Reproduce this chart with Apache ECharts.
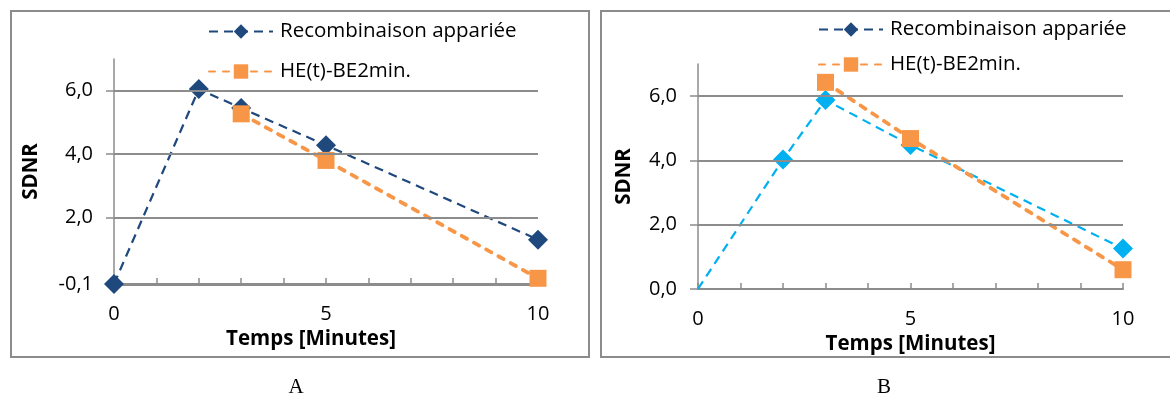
<!DOCTYPE html>
<html>
<head>
<meta charset="utf-8">
<script src="https://cdn.jsdelivr.net/npm/echarts@6/dist/echarts.min.js"></script>
<style>
html,body{margin:0;padding:0;background:#fff;}
#c{width:1170px;height:400px;}
</style>
</head>
<body>
<div id="c"></div>
<script>
// ---- data ----
const seriesNames = ['Recombinaison appariée', 'HE(t)-BE2min.'];
// Chart A
const aBlueX = [0, 2, 3, 5, 10];
const aBlueY = [-0.1, 6.05, 5.45, 4.28, 1.3];
const aOrangeX = [3, 5, 10];
const aOrangeY = [5.27, 3.8, 0.08];
// Chart B
const bBlueX = [0, 2, 3, 5, 10];
const bBlueY = [0.0, 4.03, 5.88, 4.48, 1.26];
const bOrangeX = [3, 5, 10];
const bOrangeY = [6.43, 4.68, 0.6];
// axis ticks
const aYTicks = [-0.1, 2, 4, 6];
const aGridValues = [2, 4, 6];
const bYTicks = [0, 2, 4, 6];
const xLabelValues = [0, 5, 10];
const panelLabels = ['A', 'B'];
const xName = 'Temps [Minutes]';
const yName = 'SDNR';

const pairs = (xs, ys) => xs.map((x, i) => [x, ys[i]]);

const dark = '#1F497D';
const light = '#00B0F0';
const orange = '#F79646';
const gray = '#8c8c8c';
const font = 'Open Sans';

function fmtY(v){ return v.toFixed(1).replace('.', ','); }

function xAxis(gridIndex, nameGap, namePad){
  return {
    type: 'value', gridIndex, min: 0, max: 10, interval: 1,
    name: xName, nameLocation: 'middle', nameGap,
    nameTextStyle: {fontFamily: font, fontWeight: 'bold', fontSize: 20.5, color: '#000', padding: namePad},
    axisLine: {onZero: false, lineStyle: {color: gray, width: gridIndex === 0 ? 3 : 2}},
    axisTick: {show: true, inside: true, length: 6, lineStyle: {color: gray, width: 1.5}},
    axisLabel: {fontFamily: font, fontSize: 20, color: '#000', margin: 20,
      formatter: v => xLabelValues.includes(v) ? String(v) : ''},
    splitLine: {show: false}
  };
}
function yAxis(gridIndex, min, ticks, nameGap){
  return {
    type: 'value', gridIndex, min, max: 7,
    name: yName, nameLocation: 'middle', nameGap, nameRotate: 90,
    nameTextStyle: {fontFamily: font, fontWeight: 'bold', fontSize: 20.5, color: '#000'},
    axisLine: {show: true, onZero: false, lineStyle: {color: gray, width: 1.5}},
    axisTick: {show: true, inside: false, length: 8, customValues: ticks, lineStyle: {color: gray, width: 1.5}},
    axisLabel: {fontFamily: font, fontSize: 20, color: '#000', margin: 21, customValues: ticks, formatter: fmtY},
    splitLine: {show: false}
  };
}
function gridLines(vals){
  return {
    silent: true, symbol: 'none', label: {show: false},
    lineStyle: {color: gray, width: 2, type: 'solid'},
    data: vals.map(v => ({yAxis: v}))
  };
}
function blueSeries(idx, color, data, grid){
  return {
    name: seriesNames[0], type: 'line', xAxisIndex: idx, yAxisIndex: idx,
    data, symbol: 'diamond', symbolSize: 20, clip: false,
    itemStyle: {color}, lineStyle: {color, width: 2.2, type: [9, 6]},
    markLine: gridLines(grid), z: 3
  };
}
function orangeSeries(idx, data){
  return {
    name: seriesNames[1], type: 'line', xAxisIndex: idx, yAxisIndex: idx,
    data, symbol: 'rect', symbolSize: 17, clip: false,
    itemStyle: {color: orange}, lineStyle: {color: orange, width: 3.8, type: [6, 8], cap: 'round'}, z: 4
  };
}
function legend(left, top, gap){
  return {
    orient: 'vertical', left, top, itemWidth: 64, itemHeight: 18, itemGap: gap,
    textStyle: {fontFamily: font, fontSize: 20.5, color: '#000', padding: [0, 0, 0, 2]},
    data: seriesNames, selectedMode: false
  };
}

const bData = pairs(bBlueX, bBlueY).map((p, i) => i === 0 ? {value: p, symbol: 'none'} : p);

const chart = echarts.init(document.getElementById('c'), null, {renderer: 'canvas'});
const option = {
  animation: false,
  backgroundColor: '#fff',
  grid: [
    {left: 114, right: 1170 - 538, top: 59, bottom: 400 - 284},
    {left: 698, right: 1170 - 1123, top: 64, bottom: 400 - 289}
  ],
  xAxis: [xAxis(0, 44, [0, 30, 0, 0]), xAxis(1, 39, 0)],
  yAxis: [yAxis(0, -0.1, aYTicks, 72), yAxis(1, 0, bYTicks, 63)],
  legend: [
    Object.assign(legend(203, 16, 19), {seriesIndex: [0, 1]}),
    Object.assign(legend(813, 14, 14), {seriesIndex: [2, 3]})
  ],
  series: [
    blueSeries(0, dark, pairs(aBlueX, aBlueY), aGridValues),
    orangeSeries(0, pairs(aOrangeX, aOrangeY)),
    blueSeries(1, light, bData, [2, 4, 6]),
    orangeSeries(1, pairs(bOrangeX, bOrangeY))
  ],
  graphic: [
    {type: 'rect', shape: {x: 11, y: 11, width: 578, height: 346}, style: {fill: 'none', stroke: gray, lineWidth: 2}, silent: true},
    {type: 'rect', shape: {x: 601, y: 11, width: 580, height: 346}, style: {fill: 'none', stroke: gray, lineWidth: 2}, silent: true},
    {type: 'text', x: 296, y: 387, style: {text: panelLabels[0], font: '21px "Liberation Serif"', fill: '#000', align: 'center', verticalAlign: 'middle'}},
    {type: 'text', x: 884, y: 387, style: {text: panelLabels[1], font: '21px "Liberation Serif"', fill: '#000', align: 'center', verticalAlign: 'middle'}}
  ]
};
chart.setOption(option);
</script>
</body>
</html>
